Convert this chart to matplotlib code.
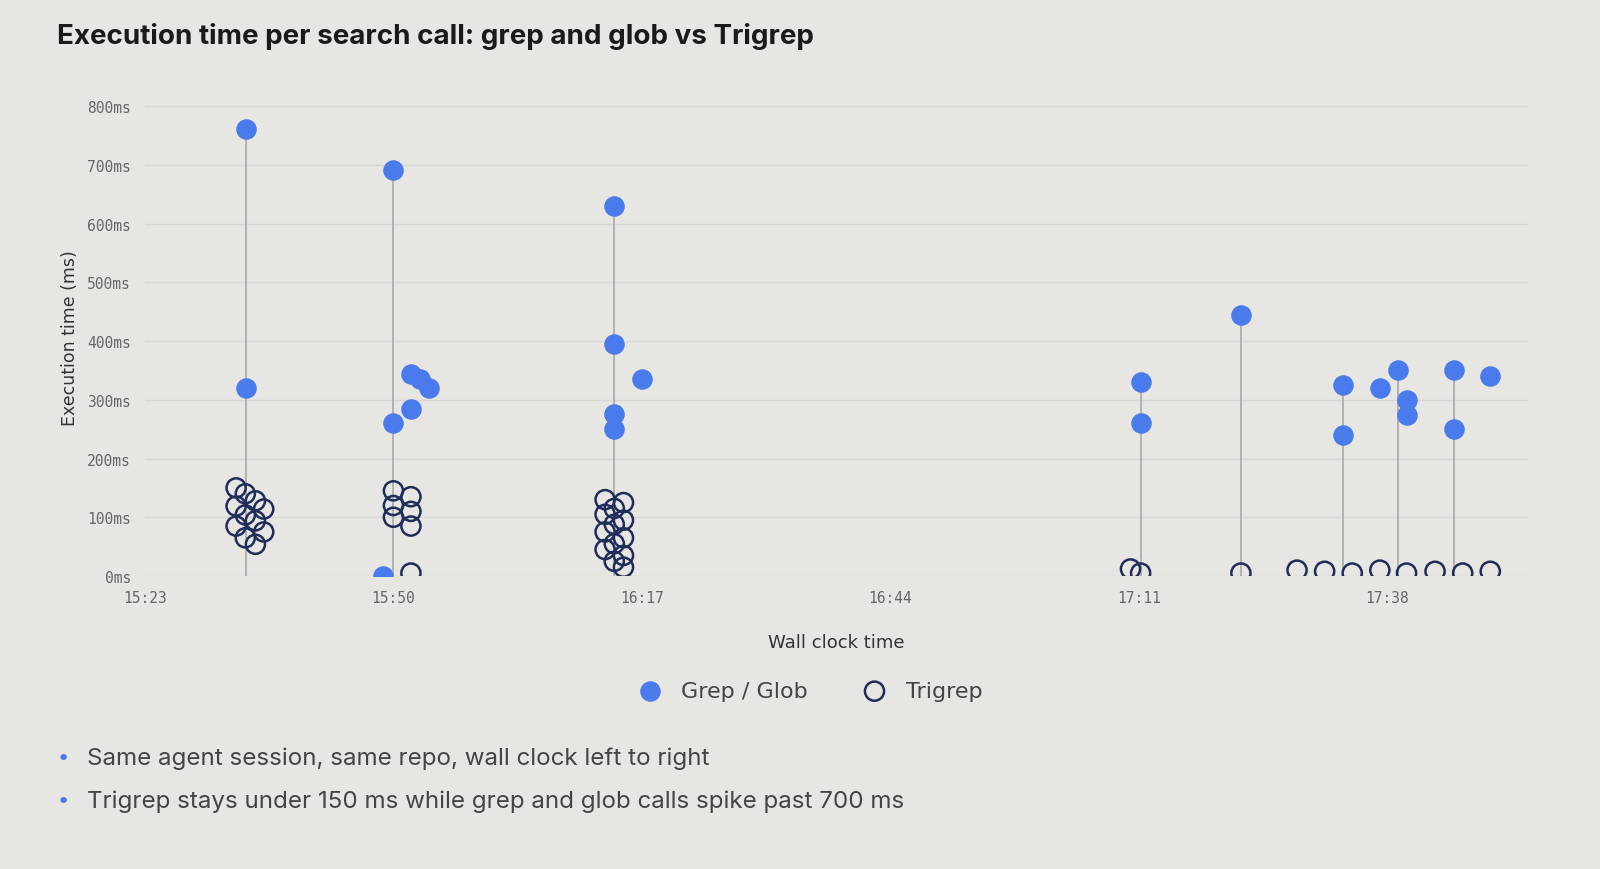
import matplotlib
matplotlib.use("Agg")
import matplotlib.pyplot as plt
import numpy as np

# minutes since 15:23
grep_x = [11.0, 11.0, 27.0, 27.0, 25.9, 28.9, 28.9, 29.9, 30.9, 51.0, 51.0, 51.0, 51.0, 54.0,
          108.2, 108.2, 119.1, 130.2, 130.2, 134.2, 136.2, 137.1, 137.1, 142.3, 142.3, 146.2]
grep_y = [761, 320, 691, 260, 0, 344, 284, 335, 320, 630, 395, 276, 250, 335,
          330, 260, 444, 325, 240, 320, 350, 300, 274, 350, 250, 340]
tri_x = [9.9, 10.9, 12.0, 12.9, 9.9, 10.9, 12.0, 12.9, 9.9, 10.9, 12.0,
         27.0, 27.0, 27.0, 28.9, 28.9, 28.9, 28.9,
         50.0, 51.0, 52.0, 50.0, 51.0, 52.0, 50.0, 51.0, 52.0, 50.0, 51.0, 52.0, 52.0,
         107.1, 108.2, 119.1, 125.2, 128.2, 131.2, 134.2, 137.1, 140.2, 143.2, 146.2]
tri_y = [150, 140, 128, 114, 119, 104, 94, 75, 85, 65, 54,
         145, 120, 100, 135, 110, 85, 5,
         130, 115, 125, 105, 88, 95, 75, 55, 65, 45, 25, 35, 15,
         12, 5, 5, 10, 8, 5, 10, 5, 8, 5, 8]
stem_x = [11.0, 27.0, 51.0, 108.2, 119.1, 130.2, 136.2, 142.3]
stem_top = [761, 691, 630, 330, 444, 325, 350, 350]
tick_pos = [0, 27, 54, 81, 108, 135]
tick_lab = ["15:23", "15:50", "16:17", "16:44", "17:11", "17:38"]
ytick_pos = [0, 100, 200, 300, 400, 500, 600, 700, 800]

bg = "#e8e6e2"
blue = "#4a7bec"
navy = "#1f2d5a"

fig = plt.figure(figsize=(16, 8.7), dpi=100, facecolor=bg)
ax = fig.add_axes([145/1600, 1-577/870, (1528-145)/1600, (577-100)/870])
ax.set_facecolor(bg)
ax.set_xlim(0, 150.3)
ax.set_ylim(0, 812)

for y in ytick_pos:
    ax.axhline(y, color="#d9d7d3", lw=1, zorder=0)
ax.vlines(stem_x, 0, stem_top, color="#a8a8a8", lw=1.2, zorder=1)
ax.scatter(grep_x, grep_y, s=190, color=blue, zorder=3, label="Grep / Glob")
ax.scatter(tri_x, tri_y, s=190, facecolors="none", edgecolors=navy, linewidths=1.8, zorder=3, label="Trigrep")

for s in ax.spines.values():
    s.set_visible(False)
ax.set_xticks(tick_pos)
ax.set_xticklabels(tick_lab, family="DejaVu Sans Mono", fontsize=10.5, color="#666")
ax.set_yticks(ytick_pos)
ax.set_yticklabels([f"{v}ms" for v in ytick_pos], family="DejaVu Sans Mono", fontsize=10.5, color="#666")
ax.tick_params(length=0, pad=10)
ax.set_xlabel("Wall clock time", fontsize=13, color="#333", labelpad=20)
ax.set_ylabel("Execution time (ms)", fontsize=12.5, color="#333", labelpad=6)

fig.text(57/1600, 1-37/870, "Execution time per search call: grep and glob vs Trigrep",
         fontsize=20, fontweight="bold", color="#1a1a1a", va="center", family="Inter")
leg = fig.legend(loc="center", bbox_to_anchor=(805/1600, 1-692/870), ncol=2, frameon=False,
                 fontsize=16, handletextpad=0.4, columnspacing=2.0, markerscale=1.0)
for t in leg.get_texts():
    t.set_color("#444")
fig.text(57/1600, 1-759/870, "•", color=blue, fontsize=16, va="center")
fig.text(87/1600, 1-759/870, "Same agent session, same repo, wall clock left to right",
         fontsize=17.4, color="#444", va="center", family="Inter")
fig.text(57/1600, 1-802/870, "•", color=blue, fontsize=16, va="center")
fig.text(87/1600, 1-802/870, "Trigrep stays under 150 ms while grep and glob calls spike past 700 ms",
         fontsize=17.4, color="#444", va="center", family="Inter")
fig.savefig("out.png", dpi=100, facecolor=bg)
